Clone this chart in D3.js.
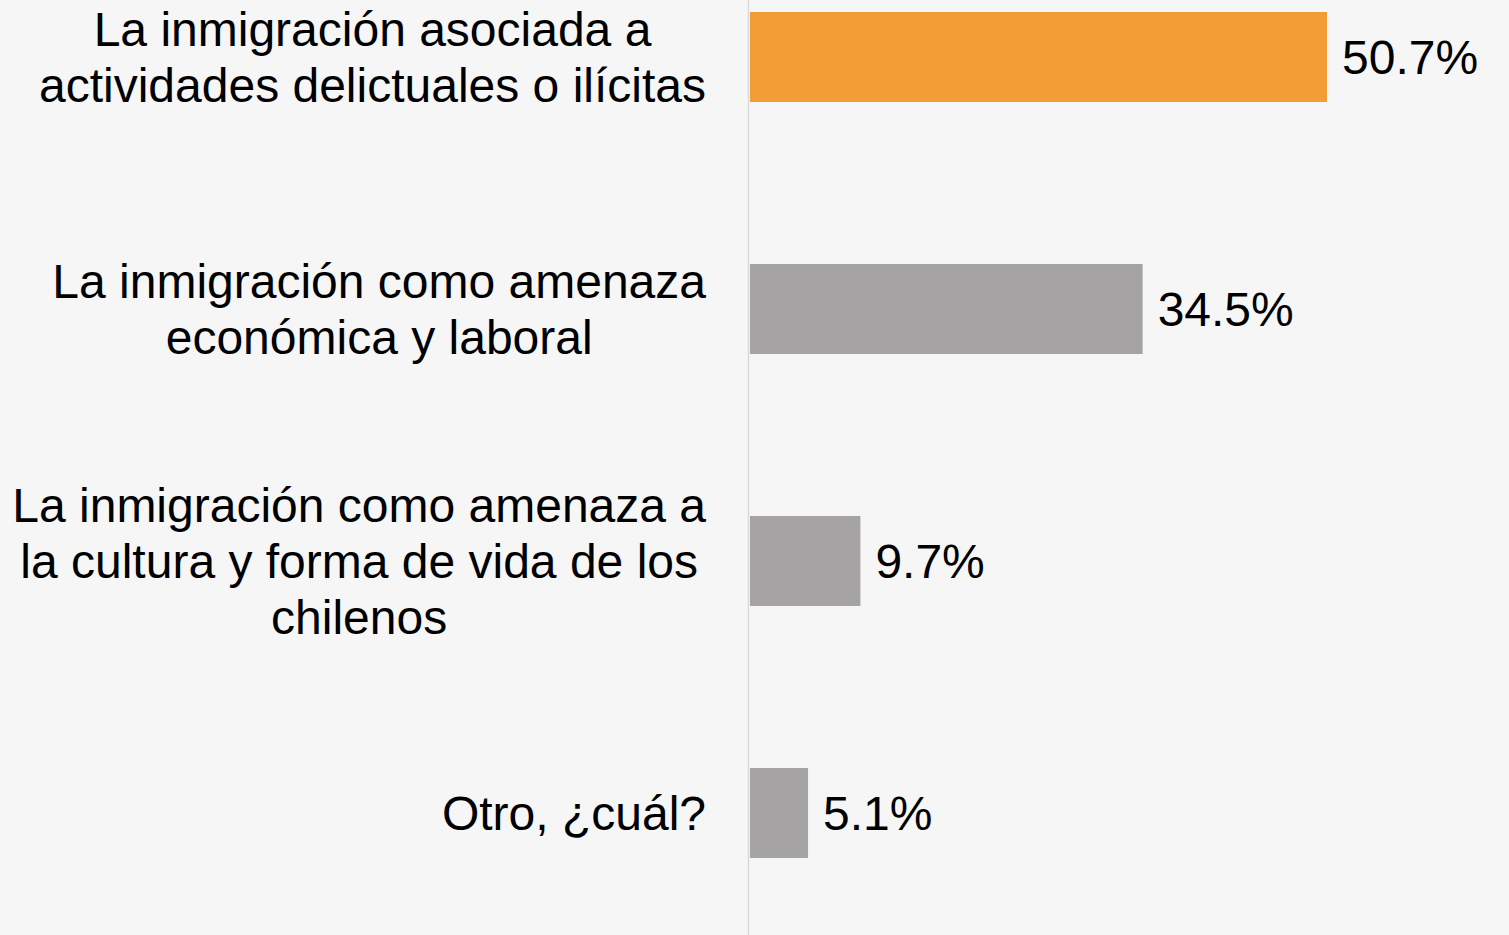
<!DOCTYPE html>
<html>
<head>
<meta charset="utf-8">
<script src="https://cdn.jsdelivr.net/npm/d3@7"></script>
<style>
  html, body { margin: 0; padding: 0; background: #f6f6f6; }
  svg { display: block; }
</style>
</head>
<body>
<svg id="chart"></svg>
<script>
// category labels, one entry per line
const categories = [
	["La inmigración asociada a", "actividades delictuales o ilícitas"],
	["La inmigración como amenaza", "económica y laboral"],
	["La inmigración como amenaza a", "la cultura y forma de vida de los", "chilenos"],
	["Otro, ¿cuál?"]
];
const values = [50.7, 34.5, 9.7, 5.1];
const valueLabels = ["50.7%", "34.5%", "9.7%", "5.1%"];
const colors = ["#f29d35", "#a5a3a3", "#a5a3a3", "#a5a3a3"];

const width = 1509;
const height = 935;
const fontSize = 48;
const lineH = 56;
const font = "'Liberation Sans', Arial, Helvetica, sans-serif";

const svg = d3.select("#chart")
	.attr("width", width)
	.attr("height", height)
	.attr("font-family", font);

const x = d3.scaleLinear()
	.domain([0, 50.7])
	.range([750, 1327]);

const y = d3.scaleBand()
	.domain(d3.range(categories.length))
	.range([-69, 939])
	.paddingInner(0.643)
	.paddingOuter(0.3215);

// axis line
svg.append("line")
	.attr("x1", 748.5)
	.attr("x2", 748.5)
	.attr("y1", 0)
	.attr("y2", height)
	.attr("stroke", "#d9d9d9")
	.attr("stroke-width", 1.5);

svg.selectAll("rect.bar")
	.data(values)
	.join("rect")
	.attr("class", "bar")
	.attr("x", x(0))
	.attr("y", (d, i) => y(i))
	.attr("width", d => x(d) - x(0))
	.attr("height", y.bandwidth())
	.attr("fill", (d, i) => colors[i]);

svg.selectAll("text.value")
	.data(values)
	.join("text")
	.attr("class", "value")
	.attr("x", d => x(d) + 15)
	.attr("y", (d, i) => y(i) + y.bandwidth() / 2 + 17)
	.attr("font-size", fontSize)
	.attr("fill", "#000")
	.text((d, i) => valueLabels[i]);

// category labels: block right aligned at 706, lines centred inside it
const labelRight = 706;
categories.forEach((lines, i) => {
	const cy = y(i) + y.bandwidth() / 2;
	const g = svg.append("g");
	const texts = g.selectAll("text")
		.data(lines)
		.join("text")
		.attr("text-anchor", "middle")
		.attr("y", (d, j) => cy + (j - (lines.length - 1) / 2) * lineH + 17)
		.attr("font-size", fontSize)
		.attr("fill", "#000")
		.text(d => d);
	const maxW = d3.max(texts.nodes(), n => n.getComputedTextLength());
	texts.attr("x", labelRight - maxW / 2);
});
</script>
</body>
</html>
